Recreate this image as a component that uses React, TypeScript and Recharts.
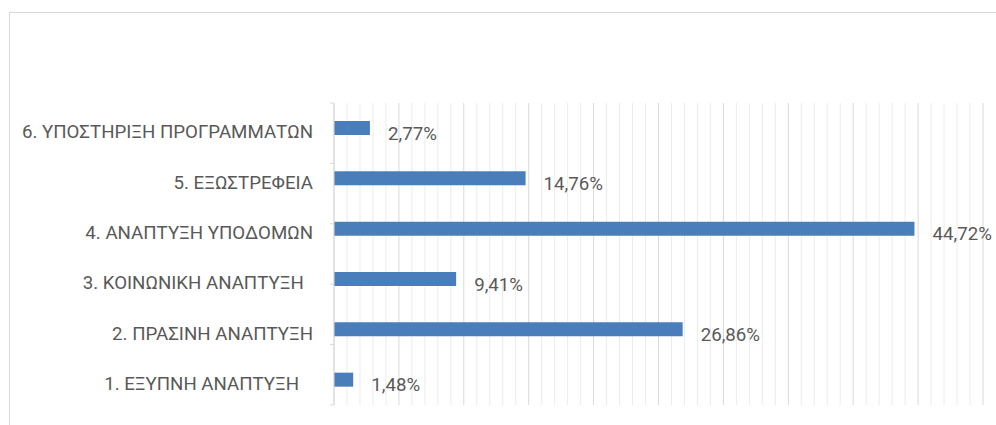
import React from 'react';
import { BarChart, Bar, XAxis, YAxis, CartesianGrid, ReferenceLine, LabelList } from 'recharts';

const categories = [
  '1. ΕΞΥΠΝΗ ΑΝΑΠΤΥΞΗ   ',
  '2. ΠΡΑΣΙΝΗ ΑΝΑΠΤΥΞΗ',
  '3. ΚΟΙΝΩΝΙΚΗ ΑΝΑΠΤΥΞΗ  ',
  '4. ΑΝΑΠΤΥΞΗ ΥΠΟΔΟΜΩΝ',
  '5. ΕΞΩΣΤΡΕΦΕΙΑ',
  '6. ΥΠΟΣΤΗΡΙΞΗ ΠΡΟΓΡΑΜΜΑΤΩΝ',
];
const shares = [1.48, 26.86, 9.41, 44.72, 14.76, 2.77];
const minorTicks = Array.from({ length: 51 }, (_, i) => i).filter((t) => t % 5 !== 0);
const majorTicks = [0, 5, 10, 15, 20, 25, 30, 35, 40, 45, 50];
const edgeTicks = [0, 1, 2, 3, 4, 5, 6];

const data = categories.map((name, i) => ({ name, value: shares[i] }));

const FONT = 'Roboto, "Liberation Sans", sans-serif';
const FONT_SIZE = 18.7;
const TEXT = '#595959';
const GRID_MAJOR = '#d9d9d9';
const GRID_MINOR = '#ececec';
const CHART_MARGIN = { top: 103, right: 13, bottom: 20, left: 10 };

const formatPct = (v: number) => `${v.toFixed(2).replace('.', ',')}%`;

function CategoryTick(props: any) {
  const { x, y, payload } = props;
  return (
    <text
      x={x}
      y={y}
      dy={10}
      textAnchor="end"
      fill={TEXT}
      fontSize={FONT_SIZE}
      fontFamily={FONT}
      style={{ whiteSpace: 'pre' }}
      xmlSpace="preserve"
    >
      {payload.value}
    </text>
  );
}

// same layout for both layers, so the plot areas line up
function Layer({ front, children }: { front: boolean; children?: React.ReactNode }) {
  return (
    <BarChart width={996} height={425} data={data} layout="vertical" margin={CHART_MARGIN}>
      {front && <CartesianGrid yAxisId="cat" horizontal={false} stroke={GRID_MAJOR} />}
      <XAxis
        type="number"
        domain={[0, 50]}
        ticks={majorTicks}
        interval={0}
        height={0}
        tickFormatter={() => ''}
        axisLine={false}
        tickLine={false}
      />
      <YAxis
        type="number"
        domain={[0, 6]}
        ticks={edgeTicks}
        width={6}
        tickSize={4}
        tickFormatter={() => ''}
        axisLine={front ? { stroke: GRID_MAJOR } : false}
        tickLine={front ? { stroke: GRID_MAJOR } : false}
      />
      <YAxis
        yAxisId="cat"
        type="category"
        dataKey="name"
        reversed
        width={318}
        tickSize={0}
        tickMargin={15}
        axisLine={false}
        tickLine={false}
        tick={front ? <CategoryTick /> : false}
        interval={0}
      />
      {children}
    </BarChart>
  );
}

export default function App() {
  return (
    <div style={{ position: 'absolute', left: 0, top: 0, width: 996, height: 425, overflow: 'hidden', background: '#fff' }}>
      <div
        style={{
          position: 'absolute',
          left: 9,
          top: 12,
          width: 1100,
          height: 600,
          borderLeft: `1px solid ${GRID_MAJOR}`,
          borderTop: `1px solid ${GRID_MAJOR}`,
        }}
      />
      <div style={{ position: 'absolute', left: 0, top: 0 }}>
        <Layer front={false}>
          {/* invisible series so the back layer's axes get built */}
          <Bar yAxisId="cat" dataKey="value" fill="transparent" barSize={14} isAnimationActive={false} />
          {minorTicks.map((t) => (
            <ReferenceLine key={t} x={t} yAxisId="cat" stroke={GRID_MINOR} strokeWidth={1} />
          ))}
        </Layer>
      </div>
      <div style={{ position: 'absolute', left: 0, top: 0 }}>
        <Layer front>
          <Bar yAxisId="cat" dataKey="value" fill="#4a7ebb" barSize={14} isAnimationActive={false}>
            <LabelList
              dataKey="value"
              position="right"
              offset={18}
              formatter={(v: any) => formatPct(Number(v))}
              fill={TEXT}
              fontSize={FONT_SIZE}
              fontFamily={FONT}
              dy={5}
            />
          </Bar>
        </Layer>
      </div>
    </div>
  );
}
